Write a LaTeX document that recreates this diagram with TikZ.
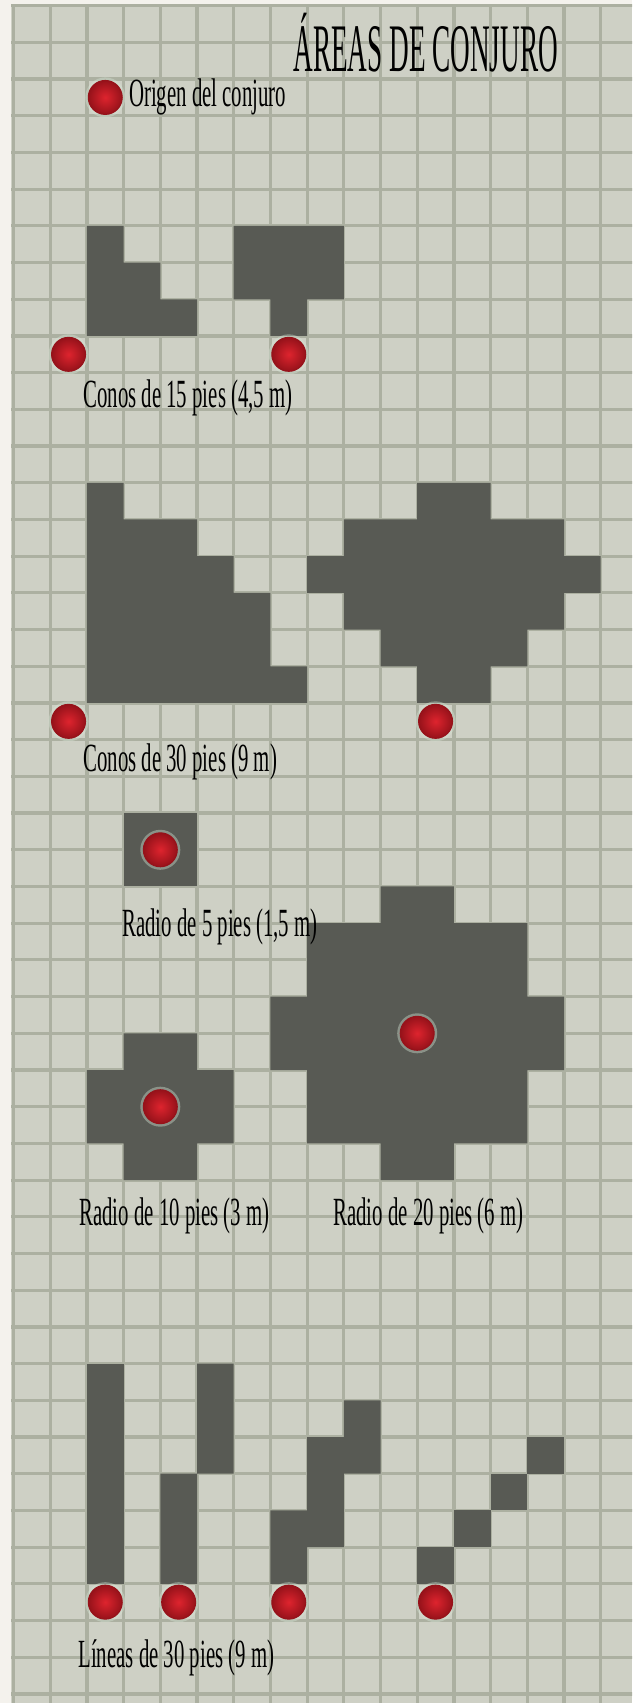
\documentclass[tikz,border=0pt]{standalone}
\usepackage{fontspec}
\newfontfamily\fuentetitulo{Liberation Serif}[FakeStretch=0.4]
\newfontfamily\fuenterotulo{Liberation Serif}[FakeStretch=0.52]
\definecolor{Pergamino}{RGB}{206,208,197}
\definecolor{Borde}{RGB}{244,242,237}
\definecolor{Rejilla}{RGB}{172,176,161}
\definecolor{Sombra}{RGB}{88,90,84}
\definecolor{RojoVivo}{RGB}{222,36,46}
\definecolor{RojoOscuro}{RGB}{150,18,26}
\definecolor{Halo}{RGB}{214,230,214}
\usetikzlibrary{positioning}

\begin{document}
\begin{tikzpicture}[x=18.35pt,y=-18.35pt,
  celda/.style={fill=Sombra},
  origen/.style={circle,minimum size=17pt,inner sep=0pt,draw=RojoOscuro,line width=0.5pt,
    inner color=RojoVivo,outer color=RojoOscuro,
    preaction={draw=Halo,line width=3pt,opacity=0.4}},
  titulo/.style={font=\fuentetitulo\fontsize{34}{34}\selectfont,inner sep=0pt,anchor=base west},
  rotulo/.style={font=\fuenterotulo\fontsize{20}{20}\selectfont,inner sep=0pt,anchor=base west}]
\useasboundingbox (-2.368,-6.155) rectangle (14.853,40.248);
% pergamino y rejilla
\fill[Borde] (-2.368,-6.155) rectangle (14.853,40.248);
\fill[Pergamino] (-2.068,-6.019) rectangle (14.853,40.248);
\begin{scope}
\clip (-2.068,-6.019) rectangle (14.853,40.248);
\foreach \c in {-2,...,14} \draw[Rejilla,line width=1.6pt] (\c,-6.2) -- (\c,40.3);
\foreach \r in {-6,...,40} \draw[Rejilla,line width=1.6pt] (-2.1,\r) -- (14.9,\r);
\end{scope}
% conos de 15 pies
\fill[celda] (0,0) rectangle (1,3) (1,1) rectangle (2,3) (2,2) rectangle (3,3);
\fill[celda] (4,0) rectangle (7,2) (5,2) rectangle (6,3);
% conos de 30 pies
\fill[celda] (0,7) rectangle (1,13) (1,8) rectangle (3,13) (3,9) rectangle (4,13)
  (4,10) rectangle (5,13) (5,12) rectangle (6,13);
\fill[celda] (9,7) rectangle (11,13) (7,8) rectangle (13,11) (6,9) rectangle (14,10)
  (8,11) rectangle (12,12);
% radios
\fill[celda] (1,16) rectangle (3,18);
\fill[celda] (1,22) rectangle (3,26) (0,23) rectangle (4,25);
\fill[celda] (8,18) rectangle (10,26) (6,19) rectangle (12,25) (5,21) rectangle (13,23);
% lineas
\fill[celda] (0,31) rectangle (1,37);
\fill[celda] (3,31) rectangle (4,34) (2,34) rectangle (3,37);
\fill[celda] (7,32) rectangle (8,34) (6,33) rectangle (7,36) (5,35) rectangle (6,37);
\foreach \i in {0,...,3} \fill[celda] (12-\i,33+\i) rectangle ++(1,1);
% origenes
\node[origen] (leyenda) at (0.5,-3.5) {};
\node[origen] (cono15a) at (-0.5,3.5) {};
\node[origen] (cono15b) at (5.5,3.5) {};
\node[origen] (cono30a) at (-0.5,13.5) {};
\node[origen] (cono30b) at (9.5,13.5) {};
\node[origen] (radio5) at (2,17) {};
\node[origen] (radio10) at (2,24) {};
\node[origen] (radio20) at (9,22) {};
\foreach \x/\n in {0.5/a,2.5/b,5.5/c,9.5/d} \node[origen] (linea\n) at (\x,37.5) {};
% textos
\node[titulo] (cabecera) at (5.616,-4.193) {ÁREAS DE CONJURO};
\node[rotulo,right=3pt of leyenda] (txtorigen) {Origen del conjuro};
\node[rotulo] (txtcono15) at (-0.106,4.96) {Conos de 15 pies (4,5 m)};
\node[rotulo] (txtcono30) at (-0.106,14.88) {Conos de 30 pies (9 m)};
\node[rotulo] (txtradio5) at (0.957,19.37) {Radio de 5 pies (1,5 m)};
\node[rotulo] (txtradio10) at (-0.215,27.25) {Radio de 10 pies (3 m)};
\node[rotulo] (txtradio20) at (6.706,27.25) {Radio de 20 pies (6 m)};
\node[rotulo] (txtlineas) at (-0.243,39.27) {Líneas de 30 pies (9 m)};
\end{tikzpicture}
\end{document}
